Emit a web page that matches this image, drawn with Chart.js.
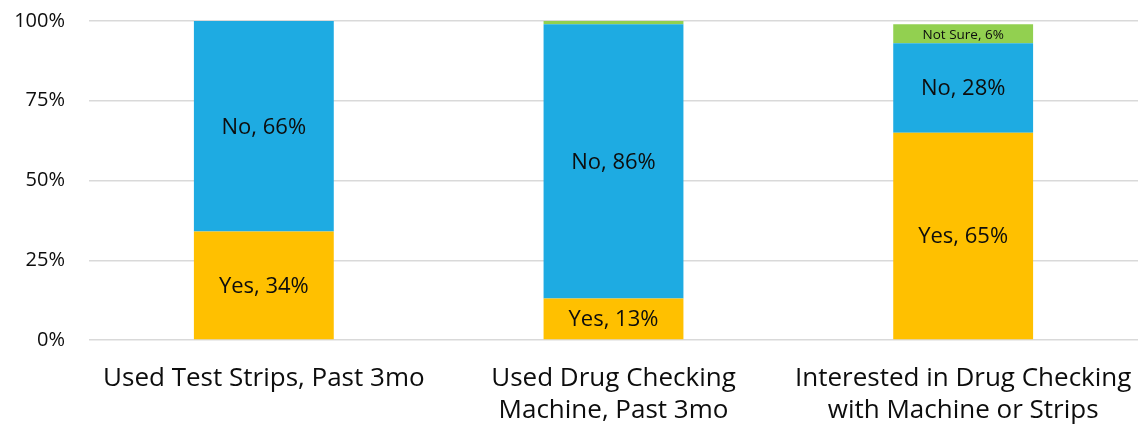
<!DOCTYPE html>
<html>
<head>
<meta charset="utf-8">
<script src="https://cdn.jsdelivr.net/npm/chart.js@4"></script>
<style>
  html, body { margin: 0; padding: 0; background: #fff; }
  #wrap { width: 1140px; height: 424px; }
</style>
</head>
<body>
<div id="wrap"><canvas id="chart" width="1140" height="424"></canvas></div>
<script>
// survey responses, percent of respondents
const categories = [
  ['Used Test Strips, Past 3mo'],
  ['Used Drug Checking', 'Machine, Past 3mo'],
  ['Interested in Drug Checking', 'with Machine or Strips']
];
const yesValues = [34, 13, 65];
const noValues = [66, 86, 28];
const notSureValues = [0, 1, 6];
const yTicks = [0, 25, 50, 75, 100];

const FONT = '"Open Sans", Lato, sans-serif';

// writes "Series, NN%" in the middle of each stacked segment
const segmentLabels = {
  id: 'segmentLabels',
  afterDatasetsDraw(chart) {
    const ctx = chart.ctx;
    ctx.save();
    ctx.textAlign = 'center';
    ctx.textBaseline = 'middle';
    ctx.fillStyle = '#0d0d0d';
    chart.data.datasets.forEach((ds, di) => {
      const meta = chart.getDatasetMeta(di);
      meta.data.forEach((bar, i) => {
        const v = ds.data[i];
        if (!v || v < 3) return;
        const { x, y, base } = bar.getProps(['x', 'y', 'base'], true);
        const h = Math.abs(base - y);
        ctx.font = (h < 30 ? '13.5px ' : '22px ') + FONT;
        ctx.fillText(ds.label + ', ' + v + '%', x, (y + base) / 2 + 1);
      });
    });
    ctx.restore();
  }
};

new Chart(document.getElementById('chart'), {
  type: 'bar',
  data: {
    labels: categories,
    datasets: [
      { label: 'Yes', data: yesValues, backgroundColor: '#FFC000' },
      { label: 'No', data: noValues, backgroundColor: '#1EABE2' },
      { label: 'Not Sure', data: notSureValues, backgroundColor: '#92D050' }
    ]
  },
  options: {
    responsive: false,
    animation: false,
    layout: { padding: { top: 21, right: 2, left: 0, bottom: 0 } },
    plugins: {
      legend: { display: false },
      tooltip: { enabled: false }
    },
    datasets: {
      bar: { categoryPercentage: 1, barPercentage: 0.4, borderWidth: 0 }
    },
    scales: {
      x: {
        stacked: true,
        grid: { display: false },
        border: { display: false },
        ticks: {
          color: '#0d0d0d',
          font: { family: FONT, size: 26, lineHeight: 1.23 },
          padding: 15,
          maxRotation: 0,
          autoSkip: false
        },
        afterFit(scale) {
          scale.height = 84;
          scale.paddingLeft = 0;
          scale.paddingRight = 0;
          scale.paddingTop = 0;
          scale.paddingBottom = 0;
        }
      },
      y: {
        stacked: true,
        min: 0,
        max: 100,
        grid: { color: '#d9d9d9', lineWidth: 1.5, drawTicks: false },
        border: { display: false },
        afterBuildTicks(scale) { scale.ticks = yTicks.map(v => ({ value: v })); },
        ticks: {
          color: '#0d0d0d',
          font: { family: FONT, size: 20 },
          padding: 24,
          callback: v => v + '%'
        },
        afterFit(scale) {
          scale.width = 89;
          scale.paddingTop = 0;
          scale.paddingBottom = 0;
        }
      }
    }
  },
  plugins: [segmentLabels]
});
</script>
</body>
</html>
